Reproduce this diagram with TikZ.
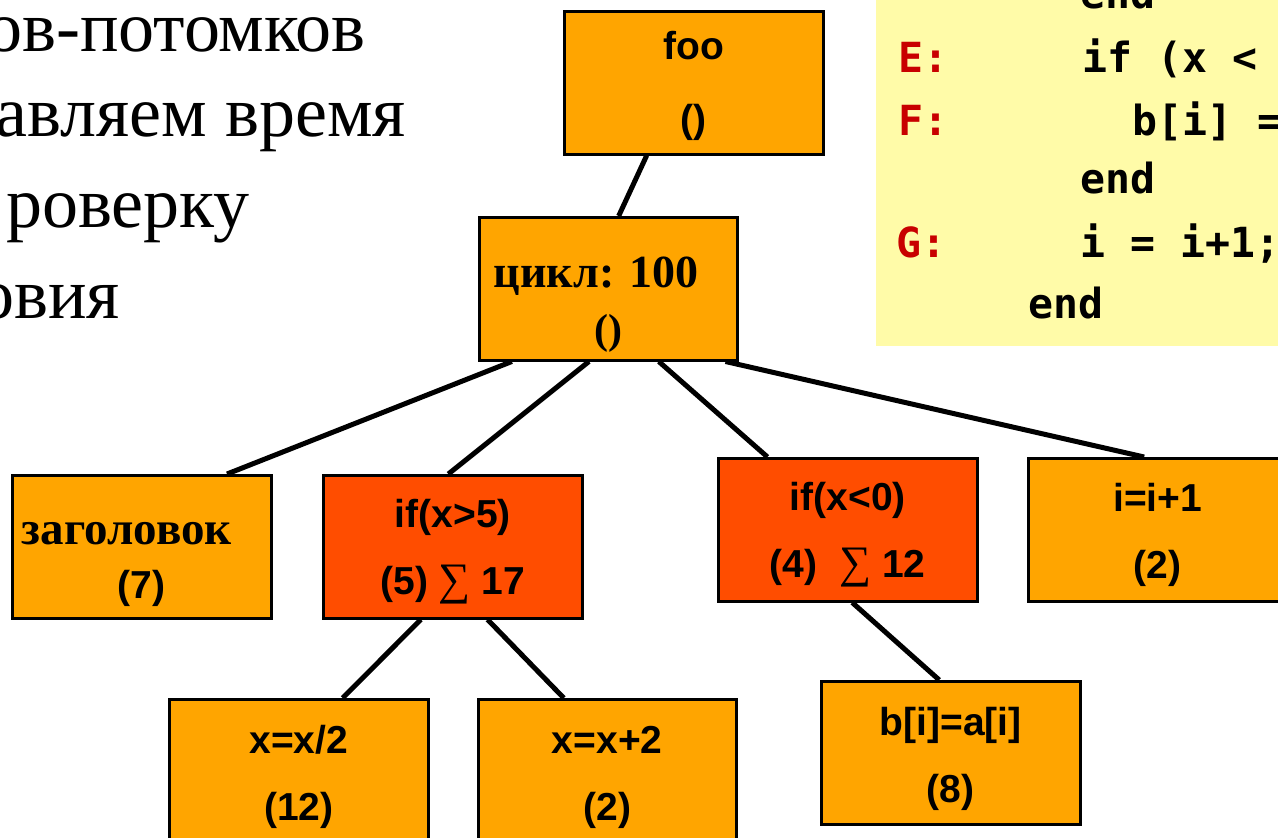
\documentclass[tikz,border=0pt]{standalone}
\usepackage{fontspec}
\setmainfont{Liberation Sans}
\newfontfamily\tmsfont{Liberation Serif}
\newfontfamily\codefont{DejaVu Sans Mono}
\usetikzlibrary{calc}
\definecolor{boxorange}{HTML}{FFA500}
\definecolor{boxred}{HTML}{FF4D00}
\definecolor{codebg}{HTML}{FFFBA8}
\definecolor{codelabel}{HTML}{C80000}
\tikzset{
  treebox/.style={draw=black, line width=2.5pt, rectangle, anchor=north west,
    minimum width=259pt, minimum height=143pt, inner sep=0pt, align=center,
    font=\bfseries\fontsize{39}{67}\selectfont},
  obox/.style={treebox, fill=boxorange},
  rbox/.style={treebox, fill=boxred},
  conn/.style={line width=5pt, black},
  slidetext/.style={anchor=base east, inner sep=0pt, font=\tmsfont\fontsize{72}{72}\selectfont},
  codetext/.style={anchor=base west, inner sep=0pt, font=\codefont\bfseries\fontsize{41.5}{41.5}\selectfont},
  codelab/.style={codetext, text=codelabel},
}
\newcommand{\sumsign}{{\tmsfont\mdseries\fontsize{45}{45}\selectfont ∑}}
\newcommand{\topstrut}[1]{\rule{0pt}{#1pt}}
\begin{document}
\begin{tikzpicture}[x=1pt,y=-1pt]
\useasboundingbox (0,0) rectangle (1278,838);
\clip (0,0) rectangle (1278,838);
\fill[white] (0,0) rectangle (1278,838);

% slide text (cut at left)
\node[slidetext] (t1) at (366,51) {ов-потомков};
\node[slidetext] (t2) at (406,136) {авляем время};
\node[slidetext] (t3) at (250,227) {роверку};
\node[slidetext] (t4) at (120,318) {овия};

% code box
\fill[codebg] (876,-20) rectangle (1300,346);
\node[codetext] (c0) at (1080,8) {end};
\node[codelab] (cE) at (898,72) {E:};
\node[codetext] (c1) at (1082,72) {if (x <};
\node[codelab] (cF) at (898,135) {F:};
\node[codetext] (c2) at (1132,135) {b[i] =};
\node[codetext] (c3) at (1080,193) {end};
\node[codelab] (cG) at (896,257) {G:};
\node[codetext] (c4) at (1080,257) {i = i+1;};
\node[codetext] (c5) at (1028,318) {end};

% tree boxes
\node[obox] (foo) at (563,10) {\topstrut{35}foo\\[6pt]()};
\node[obox, minimum width=258pt] (loop) at (478,216)
  {\topstrut{62}{\tmsfont\fontsize{46}{46}\selectfont цикл: 100}\hspace*{24pt}\\[-11pt]{\tmsfont\fontsize{42}{42}\selectfont ()}};
\node[obox] (hdr) at (11,474)
  {\topstrut{58}{\tmsfont\fontsize{47}{47}\selectfont заголовок}\hspace*{30pt}\\[-13pt](7)};
\node[rbox] (ifa) at (322,474) {\topstrut{38}if(x>5)\\(5) \sumsign{} 17};
\node[rbox] (ifb) at (717,457) {\topstrut{38}if(x<0)\\(4)\ \ \sumsign{} 12};
\node[obox] (inc) at (1027,457) {\topstrut{38}i=i+1\\(2)};
\node[obox] (xdiv) at (168,698) {\topstrut{40}x=x/2\\(12)};
\node[obox, minimum width=258pt] (xadd) at (477,698) {\topstrut{40}x=x+2\\(2)};
\node[obox] (bai) at (820,680) {\topstrut{40}b[i]=a[i]\\(8)};

% connectors
\draw[conn] ($(foo.south west)!0.32!(foo.south east)$) -- ($(loop.north west)!0.54!(loop.north east)$);
\draw[conn] ($(loop.south west)!0.13!(loop.south east)$) -- ($(hdr.north west)!0.826!(hdr.north east)$);
\draw[conn] ($(loop.south west)!0.426!(loop.south east)$) -- ($(ifa.north west)!0.483!(ifa.north east)$);
\draw[conn] ($(loop.south west)!0.694!(loop.south east)$) -- ($(ifb.north west)!0.193!(ifb.north east)$);
\draw[conn] ($(loop.south west)!0.95!(loop.south east)$) -- ($(inc.north west)!0.448!(inc.north east)$);
\draw[conn] ($(ifa.south west)!0.378!(ifa.south east)$) -- ($(xdiv.north west)!0.668!(xdiv.north east)$);
\draw[conn] ($(ifa.south west)!0.633!(ifa.south east)$) -- ($(xadd.north west)!0.333!(xadd.north east)$);
\draw[conn] ($(ifb.south west)!0.517!(ifb.south east)$) -- ($(bai.north west)!0.456!(bai.north east)$);
\end{tikzpicture}
\end{document}
